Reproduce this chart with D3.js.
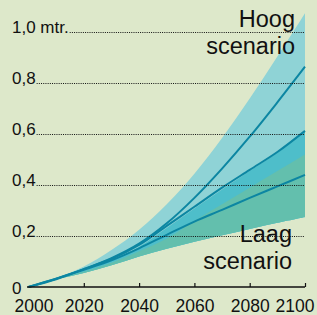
<!DOCTYPE html>
<html>
<head>
<meta charset="utf-8">
<script src="https://cdn.jsdelivr.net/npm/d3@7"></script>
<style>
  html, body { margin: 0; padding: 0; background: #dde8ca; }
  svg { display: block; font-family: "Liberation Sans", Arial, sans-serif; }
</style>
</head>
<body>
<div id="chart"></div>
<script>
// ######### DATA ###########
var years = [2000, 2010, 2020, 2030, 2040, 2050, 2060, 2070, 2080, 2090, 2100];
// outer (light) band
var upperBound = [0, 0.035, 0.08, 0.145, 0.225, 0.325, 0.445, 0.585, 0.74, 0.905, 1.075];
var lowerBound = [0, 0.03, 0.055, 0.085, 0.12, 0.15, 0.178, 0.203, 0.228, 0.252, 0.275];
// inner bands
var mediumTop = [0, 0.028, 0.066, 0.103, 0.158, 0.232, 0.308, 0.383, 0.455, 0.527, 0.613];
var greenTop = [0, 0.033, 0.06, 0.095, 0.14, 0.19, 0.26, 0.325, 0.39, 0.455, 0.52];
// scenario lines
var highLine = [0, 0.033, 0.07, 0.113, 0.17, 0.25, 0.35, 0.465, 0.59, 0.725, 0.865];
var midLine = [0, 0.03, 0.07, 0.11, 0.165, 0.24, 0.315, 0.39, 0.46, 0.53, 0.613];
var lowLine = [0, 0.033, 0.068, 0.105, 0.152, 0.205, 0.257, 0.303, 0.35, 0.395, 0.44];

var xTicks = [2000, 2020, 2040, 2060, 2080, 2100];
var yTicks = [0, 0.2, 0.4, 0.6, 0.8, 1.0];
var yTickLabels = ["0", "0,2", "0,4", "0,6", "0,8", "1,0 mtr."];

// ######### PARAMETERS ###########
var width = 317, height = 315;
var bg = "#dde8ca",
    lightColor = "#8fd3d6",
    mediumColor = "#4ebeca",
    greenColor = "#63bfad",
    lineColor = "#0c86a2";

var x = d3.scaleLinear().domain([2000, 2100]).range([28.5, 305]);
var y = d3.scaleLinear().domain([0, 1]).range([287, 32.3]);
var curve = d3.curveCatmullRom.alpha(0.5);

var svg = d3.select("#chart").append("svg")
    .attr("width", width)
    .attr("height", height);

svg.append("rect").attr("width", width).attr("height", height).attr("fill", bg);

function band(lo, hi) {
    return d3.area()
        .x(function(d, i) { return x(years[i]); })
        .y0(function(d, i) { return y(lo[i]); })
        .y1(function(d, i) { return y(hi[i]); })
        .curve(curve)(years);
}

svg.append("path").attr("d", band(lowerBound, upperBound)).attr("fill", lightColor);
svg.append("path").attr("d", band(lowerBound, mediumTop)).attr("fill", mediumColor);
svg.append("path").attr("d", band(lowerBound, greenTop)).attr("fill", greenColor);

var line = d3.line()
    .x(function(d, i) { return x(years[i]); })
    .y(function(d) { return y(d); })
    .curve(curve);

[highLine, midLine, lowLine].forEach(function(s) {
    svg.append("path").attr("d", line(s))
        .attr("fill", "none")
        .attr("stroke", lineColor)
        .attr("stroke-width", 2);
});

// y labels + dotted grid lines
yTicks.forEach(function(v, i) {
    var t = svg.append("text")
        .attr("x", 12)
        .attr("y", v === 0 ? 294 : y(v) + 0.8)
        .attr("font-size", "17px")
        .attr("fill", "#111")
        .text(yTickLabels[i]);
    if (v === 0) return;
    var w = t.node().getComputedTextLength();
    svg.append("line")
        .attr("x1", 12 + w + 1).attr("x2", x(2100))
        .attr("y1", Math.round(y(v)) + 0.5).attr("y2", Math.round(y(v)) + 0.5)
        .attr("stroke", "#111")
        .attr("stroke-width", 1)
        .attr("stroke-dasharray", "1,1.2");
});

// x axis
svg.append("line")
    .attr("x1", 27).attr("x2", x(2100))
    .attr("y1", 287).attr("y2", 287)
    .attr("stroke", "#111").attr("stroke-width", 1.3);

var xAxis = d3.axisBottom(x).tickValues(xTicks).tickFormat(d3.format("d"))
    .tickSizeInner(-4).tickSizeOuter(0).tickPadding(12.8);

var gx = svg.append("g").attr("transform", "translate(0,287)").call(xAxis);
gx.select(".domain").remove();
gx.selectAll(".tick line").attr("stroke", "#111").attr("stroke-width", 1.2)
    .filter(function(d) { return d === 2000; }).remove();
gx.selectAll(".tick text")
    .attr("font-size", "17.5px")
    .attr("font-family", "Liberation Sans, Arial, sans-serif")
    .attr("fill", "#111");
gx.selectAll(".tick").filter(function(d) { return d === 2000; }).select("text")
    .attr("text-anchor", "start").attr("x", 14 - x(2000));
gx.selectAll(".tick").filter(function(d) { return d === 2100; }).select("text")
    .attr("text-anchor", "end").attr("x", 314 - x(2100));

// scenario labels
function label(lines, xr, y0) {
    lines.forEach(function(s, i) {
        svg.append("text")
            .attr("x", xr).attr("y", y0 + i * 26.5)
            .attr("text-anchor", "end")
            .attr("font-size", "23.5px")
            .attr("fill", "#111")
            .text(s);
    });
}
label(["Hoog", "scenario"], 295, 27);
label(["Laag", "scenario"], 292, 242);
</script>
</body>
</html>
